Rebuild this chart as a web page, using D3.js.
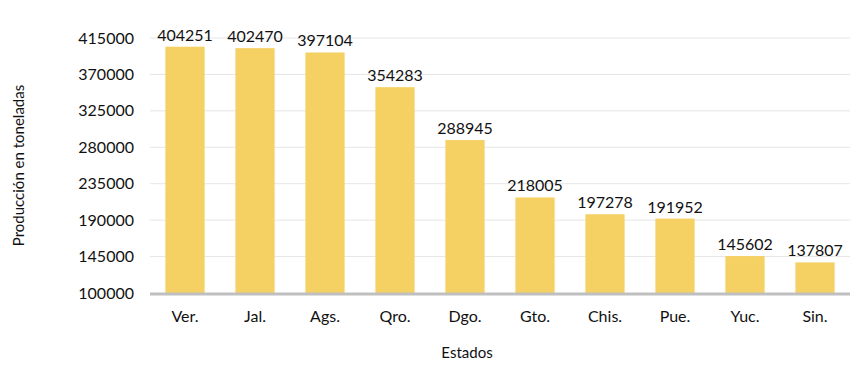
<!DOCTYPE html>
<html>
<head>
<meta charset="utf-8">
<script src="https://cdn.jsdelivr.net/npm/d3@7"></script>
<style>
  body { margin: 0; background: #fff; }
</style>
</head>
<body>
<div id="chart"></div>
<script>
const estados = ["Ver.", "Jal.", "Ags.", "Qro.", "Dgo.", "Gto.", "Chis.", "Pue.", "Yuc.", "Sin."];
const produccion = [404251, 402470, 397104, 354283, 288945, 218005, 197278, 191952, 145602, 137807];
const yTicks = [100000, 145000, 190000, 235000, 280000, 325000, 370000, 415000];

const width = 850;
const height = 370;
const marginTop = 38;
const marginRight = 0;
const marginBottom = 77;
const marginLeft = 150;

const data = estados.map((e, i) => ({estado: e, value: produccion[i]}));

const x = d3.scaleBand()
  .domain(estados)
  .range([marginLeft, width - marginRight])
  .paddingInner(0.44)
  .paddingOuter(0.22);

const y = d3.scaleLinear()
  .domain([100000, 415000])
  .range([height - marginBottom, marginTop]);

const svg = d3.select("#chart")
  .append("svg")
  .attr("width", width)
  .attr("height", height)
  .attr("viewBox", [0, 0, width, height])
  .style("font-family", "Lato, 'Open Sans', sans-serif");

// gridlines
svg.append("g")
  .selectAll("line")
  .data(yTicks.slice(1))
  .join("line")
    .attr("x1", marginLeft)
    .attr("x2", width - marginRight)
    .attr("y1", d => y(d))
    .attr("y2", d => y(d))
    .attr("stroke", "#e6e6e6")
    .attr("stroke-width", 1);

// y axis labels
svg.append("g")
  .attr("transform", `translate(${marginLeft - 16},0)`)
  .call(d3.axisLeft(y).tickValues(yTicks).tickSize(0).tickPadding(0).tickFormat(d3.format("d")))
  .call(g => g.select(".domain").remove())
  .call(g => g.selectAll("text")
      .attr("font-size", 16)
      .attr("font-family", "Lato, 'Open Sans', sans-serif")
      .attr("fill", "#111"));

// bars
svg.append("g")
  .selectAll("rect")
  .data(data)
  .join("rect")
    .attr("x", d => x(d.estado))
    .attr("y", d => y(d.value))
    .attr("width", x.bandwidth())
    .attr("height", d => y(100000) - y(d.value))
    .attr("fill", "#f5d063");

// value labels
svg.append("g")
  .selectAll("text")
  .data(data)
  .join("text")
    .attr("x", d => x(d.estado) + x.bandwidth() / 2)
    .attr("y", d => y(d.value) - 6)
    .attr("text-anchor", "middle")
    .attr("font-size", 16)
    .attr("fill", "#111")
    .text(d => d.value);

// baseline
svg.append("line")
  .attr("x1", marginLeft)
  .attr("x2", width - marginRight)
  .attr("y1", y(100000) + 1)
  .attr("y2", y(100000) + 1)
  .attr("stroke", "#bfbfbf")
  .attr("stroke-width", 3);

// x axis labels
svg.append("g")
  .attr("transform", `translate(0,${y(100000) + 18})`)
  .call(d3.axisBottom(x).tickSize(0).tickPadding(0))
  .call(g => g.select(".domain").remove())
  .call(g => g.selectAll("text")
      .attr("font-size", 16)
      .attr("font-family", "Lato, 'Open Sans', sans-serif")
      .attr("fill", "#111"));

// axis titles
svg.append("text")
  .attr("transform", `translate(24,${(marginTop + height - marginBottom) / 2}) rotate(-90)`)
  .attr("text-anchor", "middle")
  .attr("font-size", 15)
  .attr("fill", "#111")
  .text("Producción en toneladas");

svg.append("text")
  .attr("x", 467)
  .attr("y", 358)
  .attr("text-anchor", "middle")
  .attr("font-size", 15)
  .attr("fill", "#111")
  .text("Estados");
</script>
</body>
</html>
